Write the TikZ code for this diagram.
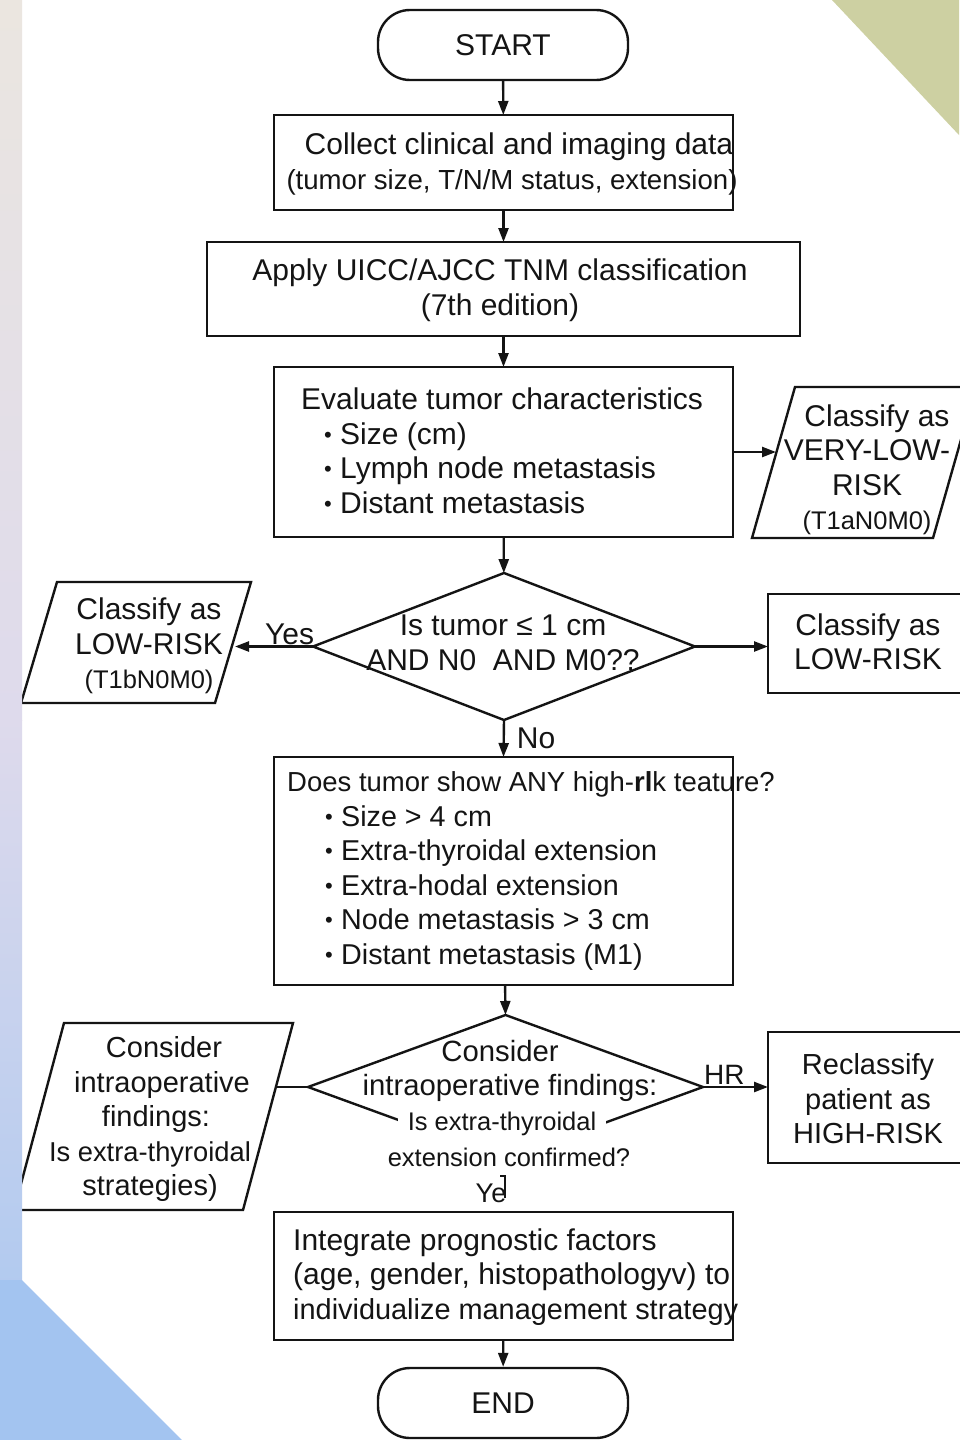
\documentclass[tikz,border=0pt]{standalone}
\usepackage{fontspec}
\setmainfont{Liberation Sans}
\usetikzlibrary{arrows.meta,shapes.geometric}

\definecolor{ink}{HTML}{141414}
\definecolor{stripA}{HTML}{EBE6E0}
\definecolor{stripB}{HTML}{DEDAEC}
\definecolor{stripC}{HTML}{A6C6F0}
\definecolor{cornerblue}{HTML}{A3C4F0}
\definecolor{olivetri}{HTML}{CDD0A2}

\newcommand{\fbig}{\fontsize{30}{34.5}\selectfont}
\newcommand{\fmid}{\fontsize{28.7}{34.5}\selectfont}
\newcommand{\fsmall}{\fontsize{25.5}{34}\selectfont}
\newcommand{\fsz}[1]{\fontsize{#1}{34.5}\selectfont}
\newcommand{\bul}{\makebox[16pt][l]{\raisebox{2pt}{\fontsize{22}{22}\selectfont\textbullet}}}
% outline of a slanted (input/output) box around a frame node
\newcommand{\slantbox}[2]{\draw[line width=2.4pt, draw=ink] (#1.south west) -- ([xshift=#2]#1.north west) -- (#1.north east) -- ([xshift=-#2]#1.south east) -- cycle;}

\tikzset{
  box/.style={draw=ink, line width=2.4pt, rectangle, inner sep=0pt, outer sep=0pt},
  term/.style={draw=ink, line width=2.4pt, rounded corners=32pt, minimum width=250pt, minimum height=70pt, font=\fbig, text=ink},
  dia/.style={draw=ink, line width=2.4pt, diamond, inner sep=0pt, outer sep=0pt},
  frame/.style={draw=none, inner sep=0pt, outer sep=0pt},
  txt/.style={inner sep=0pt, align=center, font=\fbig, text=ink},
  ltxt/.style={inner sep=0pt, align=left, font=\fbig, text=ink, anchor=west},
  arr/.style={draw=ink, line width=2.4pt, -{Triangle[length=14pt,width=10pt]}},
  link/.style={draw=ink, line width=2.4pt},
}

\begin{document}
\begin{tikzpicture}[x=1pt, y=-1pt]
% canvas
\fill[white] (0,0) rectangle (959,1440);
\useasboundingbox (0,0) rectangle (959,1440);
\fill[olivetri] (832,0) -- (959,0) -- (959,135) -- cycle;

% terminals and process boxes
\node[term] (start) at (503,45) {START};

\node[box, minimum width=459pt, minimum height=95pt] (collect) at (503.5,162.5) {};
\node[txt] (collect-t) at (512,164) {\hspace*{14pt}Collect clinical and imaging data\\{\fsz{27.6}(tumor size, T/N/M status, extension)}};

\node[box, minimum width=593pt, minimum height=94pt] (tnm) at (503.5,289) {};
\node[txt] (tnm-t) at (500,290) {Apply UICC/AJCC TNM classification\\(7th edition)};

\node[box, minimum width=459pt, minimum height=170pt] (eval) at (503.5,452) {};
\node[ltxt] (eval-t) at (301,451) {Evaluate tumor characteristics\\
\hspace*{23pt}\bul Size (cm)\\
\hspace*{23pt}\bul Lymph node metastasis\\
\hspace*{23pt}\bul Distant metastasis};

% very-low-risk output
\node[frame, minimum width=224pt, minimum height=151pt] (vlr) at (864,462.5) {};
\slantbox{vlr}{43}
\node[txt] (vlr-t) at (867,470) {\hspace*{20pt}Classify as\\VERY-LOW-\\RISK\\{\fsmall (T1aN0M0)}};
\coordinate (vlr-in) at ([xshift=24pt]vlr.west);

% first decision
\node[dia, minimum width=382pt, minimum height=147pt] (q1) at (504,646.5) {};
\node[txt] (q1-t) at (503,643) {Is tumor ≤ 1 cm\\AND N0\ \ AND M0??};

\node[frame, minimum width=230pt, minimum height=121pt] (lowL) at (136,642.5) {};
\slantbox{lowL}{36}
\node[txt] (lowL-t) at (149,646) {Classify as\\LOW-RISK\\{\fsmall (T1bN0M0)}};
\coordinate (lowL-in) at ([xshift=-16pt]lowL.east);

\node[box, minimum width=212pt, minimum height=99pt] (lowR) at (874,643.5) {};
\node[txt] (lowR-t) at (868,642) {Classify as\\LOW-RISK};

% high-risk features
\node[box, minimum width=459pt, minimum height=228pt] (feat) at (503.5,871) {};
\node[ltxt, font=\fmid] (feat-t) at (287,871) {{\fsz{27.5}Does tumor show ANY high-\textbf{rl}k teature?}\\
\hspace*{38pt}\bul Size > 4 cm\\
\hspace*{38pt}\bul Extra-thyroidal extension\\
\hspace*{38pt}\bul Extra-hodal extension\\
\hspace*{38pt}\bul Node metastasis > 3 cm\\
\hspace*{38pt}\bul Distant metastasis (M1)};

% second decision
\node[dia, minimum width=395pt, minimum height=144pt] (q2) at (505.5,1087) {};
\node[txt, font=\fsz{29.3}] (q2-t) at (510,1071) {Consider\hspace*{20pt}\\intraoperative findings:};
\node[txt, font=\fsmall, fill=white, inner xsep=10pt, inner ysep=8pt] (q2-l3) at (502,1124) {Is extra-thyroidal};
\node[txt, font=\fsmall, fill=white, inner xsep=3pt, inner ysep=6pt] (q2-l4) at (509,1157) {extension confirmed?};

\node[frame, minimum width=279pt, minimum height=187pt] (intra) at (153.5,1116.5) {};
\slantbox{intra}{50}
\node[txt, font=\fsz{29}] (intra-t) at (150,1119) {\hspace*{28pt}Consider\\\hspace*{24pt}intraoperative\\\hspace*{12pt}findings:\\{\fsz{27.3}Is extra-thyroidal}\hspace*{14pt}\\strategies)};
\coordinate (intra-out) at ([xshift=-17pt]intra.east);

\node[box, minimum width=212pt, minimum height=131pt] (hr) at (874,1097.5) {};
\node[txt, font=\fsz{29}] (hr-t) at (868,1099) {Reclassify\\patient as\\HIGH-RISK};

% final steps
\node[box, minimum width=459pt, minimum height=128pt] (plan) at (503.5,1276) {};
\node[ltxt] (plan-t) at (293,1277) {Integrate prognostic factors\\(age, gender, histopathologyv) to\\{\fsz{28.9}individualize management strategy}};

\node[term] (end) at (503,1403) {END};

% connectors
\draw[arr] (start) -- (collect);
\draw[arr] (collect) -- (tnm);
\draw[arr] (tnm) -- (eval);
\draw[arr] (eval.east) -- (eval.east -| vlr-in);
\draw[arr] (eval) -- (q1);
\draw[arr] (q1.west) -- (q1.west -| lowL-in) node[pos=0.3, above=1pt, txt] (yes1) {Yes};
\draw[arr] (q1.east) -- (q1.east -| lowR.west);
\draw[arr] (q1.south) -- (feat.north) node[pos=0.5, right=12pt, txt] (no1) {No};
\draw[arr] (feat) -- (q2.north);
\draw[arr] (q2.east) -- (q2.east -| hr.west) node[pos=0.33, above=1pt, txt, font=\fsz{28}] (hr-l) {HR};
\draw[link] (q2.west) -- (q2.west -| intra-out);
\node[txt, font=\fsz{27}] (ye) at (491,1193) {Ye};
\coordinate (ye-top) at (505,1176);
\coordinate (ye-bot) at (505,1198);
\draw[draw=ink, line width=1.6pt] ([xshift=-5pt]ye-top) -- (ye-top) -- (ye-bot);
\draw[arr] (plan) -- (end);

% page edge decoration
\shade[top color=stripA, bottom color=stripB] (0,0) rectangle (22,720);
\shade[top color=stripB, bottom color=stripC] (0,720) rectangle (22,1440);
\fill[cornerblue] (0,1280) -- (22,1280) -- (182,1440) -- (0,1440) -- cycle;
\end{tikzpicture}
\end{document}
